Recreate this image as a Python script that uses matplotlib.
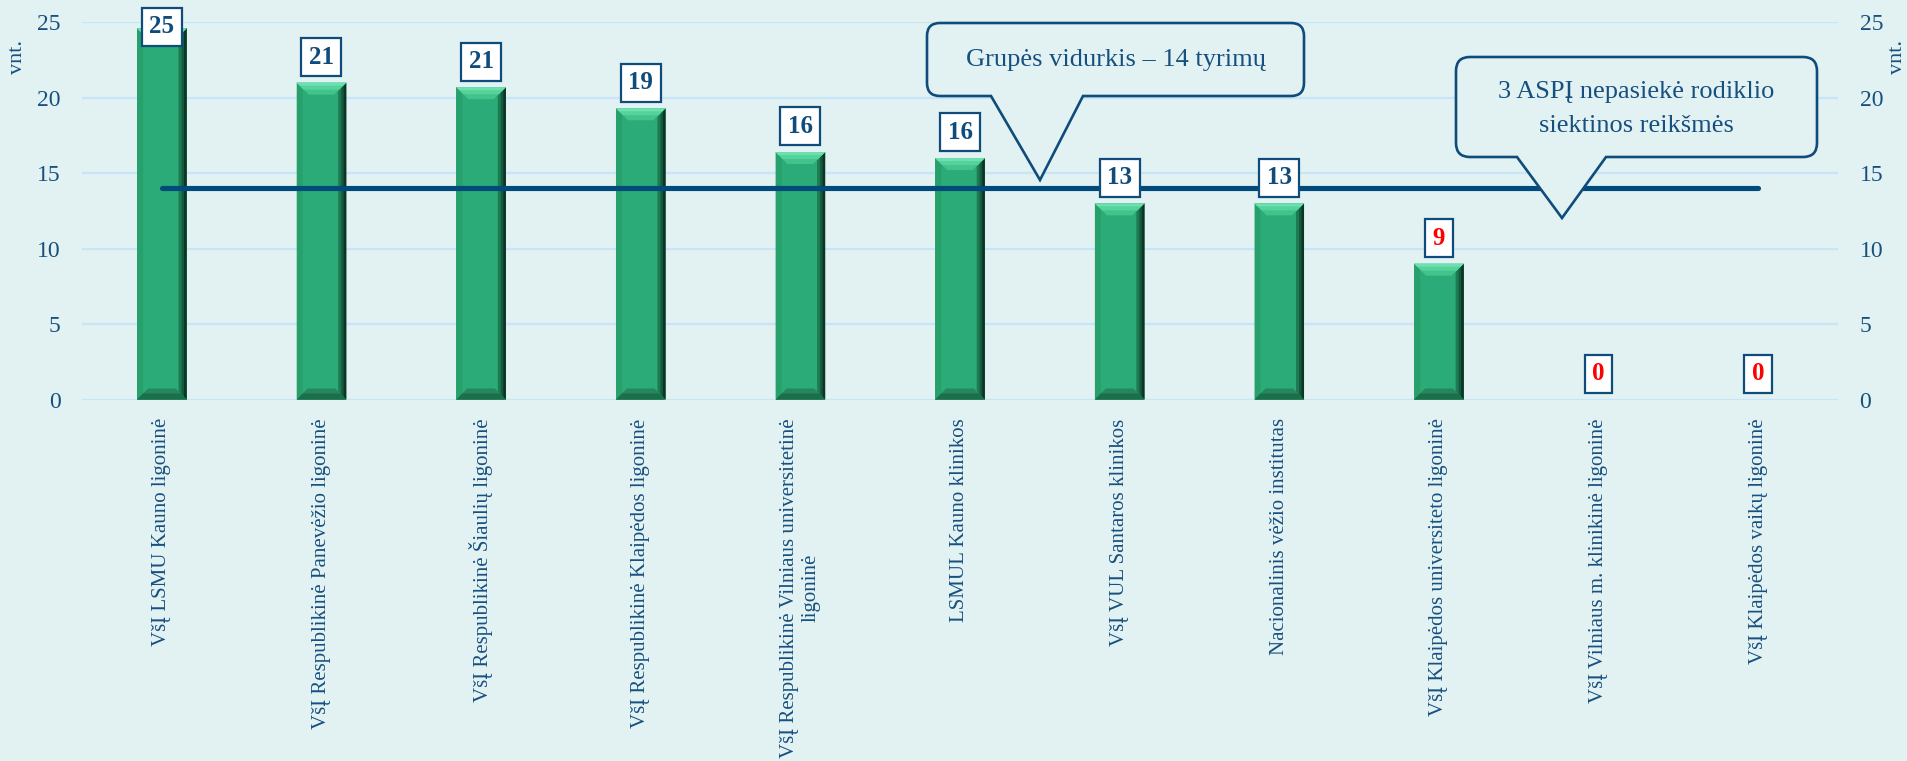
import matplotlib
matplotlib.use("Agg")
import matplotlib.pyplot as plt
from matplotlib.path import Path
from matplotlib.patches import PathPatch, Polygon

# ---------------- data ----------------
categories = [
    "VšĮ LSMU Kauno ligoninė",
    "VšĮ Respublikinė Panevėžio ligoninė",
    "VšĮ Respublikinė Šiaulių ligoninė",
    "VšĮ Respublikinė Klaipėdos ligoninė",
    "VšĮ Respublikinė Vilniaus universitetinė\nligoninė",
    "LSMUL Kauno klinikos",
    "VšĮ VUL Santaros klinikos",
    "Nacionalinis vėžio institutas",
    "VšĮ Klaipėdos universiteto ligoninė",
    "VšĮ Vilniaus m. klinikinė ligoninė",
    "VšĮ Klaipėdos vaikų ligoninė",
]
values = [24.6, 21.0, 20.7, 19.3, 16.4, 16.0, 13.0, 13.0, 9.0, 0.0, 0.0]
group_average = 14
target_missed = [False, False, False, False, False, False, False, False, True, True, True]
y_ticks = [0, 5, 10, 15, 20, 25]
unit_label = "vnt."
callout_avg_text = "Grupės vidurkis – 14 tyrimų"
callout_target_text = "3 ASPĮ nepasiekė rodiklio\nsiektinos reikšmės"

# ---------------- style ----------------
W, H = 1907, 761
BG = "#e2f2f3"
GRID = "#c6e6f8"
TXT = "#17507f"
LINE = "#004a7c"
GREEN = "#2bab77"
SERIF = ["Liberation Serif", "DejaVu Serif"]

plt.rcParams["font.family"] = SERIF

fig = plt.figure(figsize=(W / 100, H / 100), dpi=100, facecolor=BG)
ax_left, ax_right, ax_top, ax_bottom = 82, 1838, 22.3, 399.5
ax = fig.add_axes([ax_left / W, 1 - ax_bottom / H,
                   (ax_right - ax_left) / W, (ax_bottom - ax_top) / H])
ax.set_facecolor(BG)
n = len(categories)
x = list(range(n))
ax.set_xlim(-0.5, n - 0.5)
ax.set_ylim(0, 25)
for s in ax.spines.values():
    s.set_visible(False)

ax.set_yticks(y_ticks)
ax.yaxis.grid(True, color=GRID, linewidth=1.6)
ax.set_axisbelow(True)
ax.tick_params(axis="y", left=False, right=False, labelleft=True, labelright=True,
               labelsize=17, labelcolor=TXT, pad=12)
ax.tick_params(axis="x", bottom=False, pad=10)
ax.set_xticks(x)
ax.set_xticklabels(categories, rotation=90, fontsize=15, color=TXT,
                   va="top", ha="center", multialignment="center")

# bars with bevel
bar_w = 0.31
px_x = n / (ax_right - ax_left)            # data units per pixel (x)
px_y = 25 / (ax_bottom - ax_top)           # data units per pixel (y)
ax.bar(x, values, width=bar_w, color=GREEN, zorder=2, linewidth=0)
for xi, v in zip(x, values):
    if v <= 0:
        continue
    l, r = xi - bar_w / 2, xi + bar_w / 2

    def strip(side, k, color):
        ex, ey = k * px_x, k * px_y
        if side == "top":
            pts = [(l, v), (r, v), (r - ex, v - ey), (l + ex, v - ey)]
        elif side == "bottom":
            pts = [(l, 0), (r, 0), (r - ex, ey), (l + ex, ey)]
        elif side == "right":
            pts = [(r, 0), (r, v), (r - ex, v - ey), (r - ex, ey)]
        else:
            pts = [(l, 0), (l, v), (l + ex, v - ey), (l + ex, ey)]
        ax.add_patch(Polygon(pts, closed=True, facecolor=color,
                             edgecolor="none", zorder=2))

    strip("left", 6, "#27a06c")
    strip("right", 8, "#1e7a52")
    strip("right", 5, "#145a3c")
    strip("right", 2.5, "#0b3525")
    strip("bottom", 11, "#25875c")
    strip("bottom", 6, "#1d6e4b")
    strip("top", 12, "#43c28b")
    strip("top", 7, "#55d39d")
    strip("top", 3, "#6ee0b0")

# average line
ax.plot(x, [group_average] * n, color=LINE, linewidth=3.7,
        solid_capstyle="round", zorder=3)

# value labels
for xi, v, miss in zip(x, values, target_missed):
    yl = min(v + 1.7, 24.7)
    ax.text(xi, yl, f"{round(v):d}", ha="center", va="center", fontsize=18,
            fontweight="bold", color="#ff0000" if miss else "#0f4c7c", zorder=5,
            clip_on=False,
            bbox=dict(boxstyle="square,pad=0.3", facecolor="white",
                      edgecolor="#0f4c7c", linewidth=1.6))

# unit labels
fig.text(17 / W, 1 - 57 / H, unit_label, rotation=90, fontsize=16, color=TXT,
         ha="center", va="center")
fig.text(1897 / W, 1 - 57 / H, unit_label, rotation=90, fontsize=16, color=TXT,
         ha="center", va="center")


# callouts (pixel coords, y downward)
def callout(x0, y0, x1, y1, r, b0, b1, tip):
    P = []
    C = []

    def mv(p):
        P.append(p); C.append(Path.MOVETO)

    def ln(p):
        P.append(p); C.append(Path.LINETO)

    def cv(c, p):
        P.extend([c, p]); C.extend([Path.CURVE3, Path.CURVE3])

    mv((x0 + r, y0))
    ln((x1 - r, y0))
    cv((x1, y0), (x1, y0 + r))
    ln((x1, y1 - r))
    cv((x1, y1), (x1 - r, y1))
    ln((b1, y1))
    ln(tip)
    ln((b0, y1))
    ln((x0 + r, y1))
    cv((x0, y1), (x0, y1 - r))
    ln((x0, y0 + r))
    cv((x0, y0), (x0 + r, y0))
    P.append((x0 + r, y0)); C.append(Path.CLOSEPOLY)
    P = [(px / W, 1 - py / H) for px, py in P]
    patch = PathPatch(Path(P, C), facecolor=BG, edgecolor="#0f4c7c",
                      linewidth=1.9, transform=fig.transFigure, zorder=10,
                      joinstyle="miter")
    fig.add_artist(patch)


callout(927, 23, 1304, 96, 13, 991, 1083, (1040, 180))
fig.text((927 + 1304) / 2 / W, 1 - 60 / H, callout_avg_text, fontsize=19,
         color=TXT, ha="center", va="center", zorder=11)
callout(1456, 57, 1817, 157, 14, 1517, 1606, (1562, 218))
fig.text(1636 / W, 1 - 109 / H, callout_target_text, fontsize=19, color=TXT,
         ha="center", va="center", multialignment="center", linespacing=1.65,
         zorder=11)

fig.savefig("out.png", dpi=100, facecolor=BG)
